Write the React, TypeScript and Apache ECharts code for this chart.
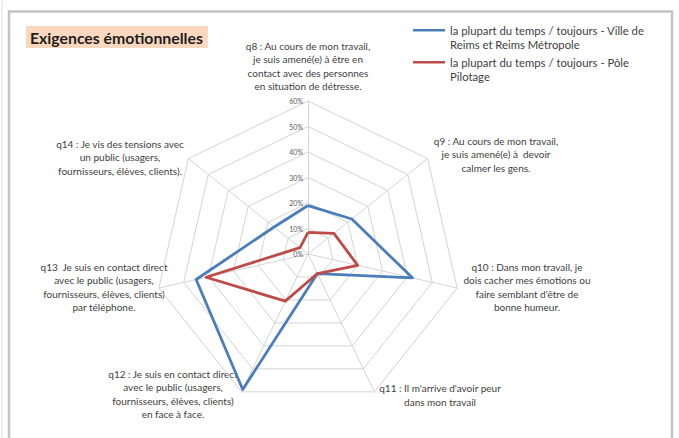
import React, { useEffect, useRef } from "react";
import * as echarts from "echarts";

const questionLabels = [
  "q8 : Au cours de mon travail,\nje suis amené(e) à être en\ncontact avec des personnes\nen situation de détresse.",
  "q9 : Au cours de mon travail,\nje suis amené(e) à  devoir\ncalmer les gens.",
  "q10 : Dans mon travail, je\ndois cacher mes émotions ou\nfaire semblant d'être de\nbonne humeur.",
  "q11 : Il m'arrive d'avoir peur\ndans mon travail",
  "q12 : Je suis en contact direct\navec le public (usagers,\nfournisseurs, élèves, clients)\nen face à face.",
  "q13  Je suis en contact direct\navec le public (usagers,\nfournisseurs, élèves, clients)\npar téléphone.",
  "q14 : Je vis des tensions avec\nun public (usagers,\nfournisseurs, élèves, clients).",
];

const seriesNames = [
  "la plupart du temps / toujours - Ville de Reims et Reims Métropole",
  "la plupart du temps / toujours - Pôle Pilotage",
];
const legendWrapped = [
  "la plupart du temps / toujours - Ville de\nReims et Reims Métropole",
  "la plupart du temps / toujours - Pôle\nPilotage",
];

const villeValues = [0.19, 0.22, 0.42, 0.085, 0.59, 0.45, 0.17];
const poleValues = [0.085, 0.13, 0.2, 0.085, 0.205, 0.41, 0.04];

const tickLabels = ["0%", "10%", "20%", "30%", "40%", "50%", "60%"];
const axisMax = 0.6;
const axisStep = 0.1;

// label anchor positions (layout)
const labelPos: [number, number][] = [
  [308, 66],
  [496, 154],
  [527, 287],
  [440, 395],
  [173, 394],
  [104, 287],
  [120, 157],
];

const seriesColors = ["#4A7EBB", "#BE4B48"];

// ECharts radar runs counter-clockwise; Excel runs clockwise
const clockwise = <T,>(arr: T[]): T[] => [arr[0], ...arr.slice(1).reverse()];

export default function App() {
  const ref = useRef<HTMLDivElement>(null);
  useEffect(() => {
    if (!ref.current) return;
    const chart = echarts.init(ref.current, undefined, { renderer: "svg" });
    const center = [308, 254];
    const radius = 153;
    chart.setOption({
      animation: false,
      backgroundColor: "#ffffff",
      title: {
        text: "Exigences émotionnelles",
        left: 26,
        top: 26,
        padding: [3, 5, 3, 4],
        backgroundColor: "#FAD8BF",
        textStyle: {
          fontFamily: "Lato",
          fontWeight: "bold",
          fontSize: 15.8,
          color: "#1e1e1e",
        },
      },
      legend: {
        orient: "vertical",
        left: 408,
        top: 18,
        itemGap: 4,
        itemWidth: 32,
        itemHeight: 16,
        icon: "path://M0,0H32V2.6H0Z M0,15.9H0.05V16H0Z",
        data: seriesNames,
        formatter: (n: string) => legendWrapped[seriesNames.indexOf(n)],
        textStyle: {
          fontFamily: "Lato",
          fontSize: 11.3,
          lineHeight: 14,
          color: "#404040",
        },
      },
      radar: {
        center,
        radius,
        startAngle: 90,
        shape: "polygon",
        splitNumber: Math.round(axisMax / axisStep),
        indicator: clockwise(questionLabels).map((n) => ({ name: n, min: 0, max: axisMax })),
        axisName: { show: false },
        splitArea: { show: false },
        splitLine: { lineStyle: { color: "#d4d4d4", width: 1 } },
        axisLine: { lineStyle: { color: "#d4d4d4", width: 1 } },
      },
      polar: { center, radius },
      angleAxis: { show: false, type: "value", startAngle: 90, min: 0, max: 360 },
      radiusAxis: {
        type: "value",
        min: 0,
        max: axisMax,
        interval: axisStep,
        axisLine: { show: false },
        axisTick: { show: false },
        splitLine: { show: false },
        axisLabel: {
          formatter: (v: number) => tickLabels[Math.round(v / axisStep)],
          fontFamily: "Lato",
          fontSize: 7,
          color: "#595959",
          margin: 5,
        },
      },
      graphic: [
        {
          type: "rect",
          shape: { x: 9, y: 11.5, width: 663, height: 440 },
          style: { fill: "none", stroke: "#c3c3c3", lineWidth: 2.5 },
          silent: true,
        },
        {
          type: "line",
          shape: { x1: 2, y1: 0, x2: 2, y2: 438 },
          style: { stroke: "#e0e0e0", lineWidth: 1 },
          silent: true,
        },
        ...questionLabels.map((t, i) => ({
          type: "text",
          x: labelPos[i][0],
          y: labelPos[i][1],
          silent: true,
          style: {
            text: t,
            textAlign: "center",
            textVerticalAlign: "middle",
            fontFamily: "Lato",
            fontSize: 10,
            lineHeight: 13.5,
            fill: "#404040",
          },
        })),
      ],
      series: [
        {
          type: "radar",
          symbol: "none",
          data: [
            {
              name: seriesNames[0],
              value: clockwise(villeValues),
              lineStyle: { color: seriesColors[0], width: 2.8 },
              itemStyle: { color: seriesColors[0] },
            },
            {
              name: seriesNames[1],
              value: clockwise(poleValues),
              lineStyle: { color: seriesColors[1], width: 2.8 },
              itemStyle: { color: seriesColors[1] },
            },
          ],
        },
      ],
    });
    return () => chart.dispose();
  }, []);
  return (
    <div
      ref={ref}
      style={{ position: "fixed", left: 0, top: 0, width: 679, height: 438 }}
    />
  );
}
